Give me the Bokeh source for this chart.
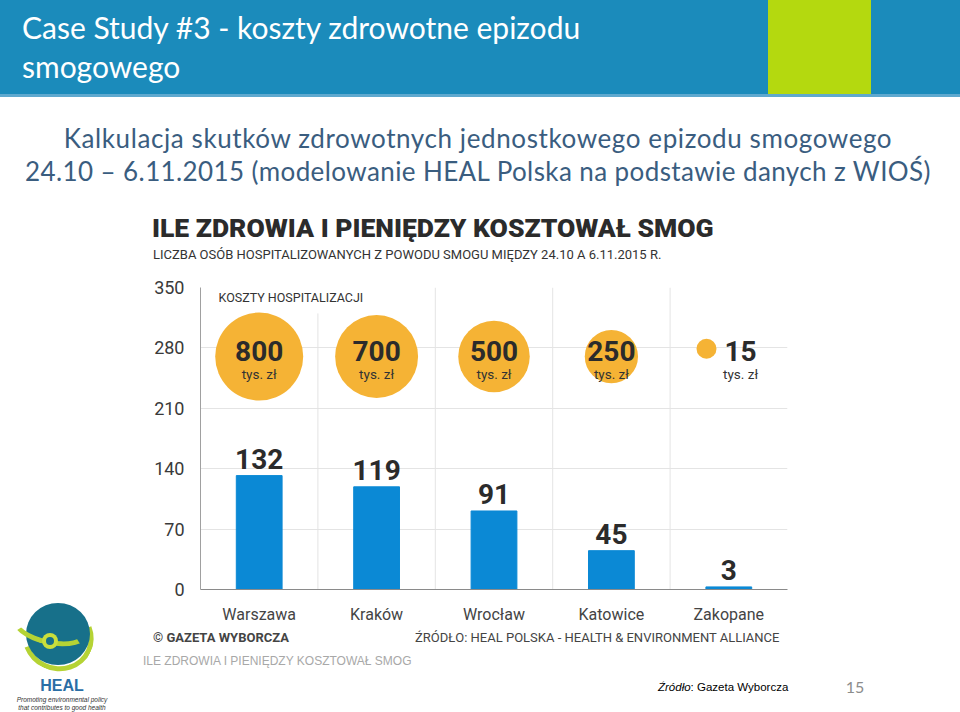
import html
import numpy as np
from bokeh.plotting import figure
from bokeh.models import Range1d, FactorRange, Label, ColumnDataSource, FixedTicker, Div
from bokeh.layouts import column
from bokeh.core.properties import value
from bokeh.embed import file_html
from bokeh.resources import INLINE

# ---------------- data ----------------
cities = ["Warszawa", "Kraków", "Wrocław", "Katowice", "Zakopane"]
hospitalized = [132, 119, 91, 45, 3]
costs = [800, 700, 500, 250, 15]
cost_unit = "tys. zł"
y_ticks = [0, 70, 140, 210, 280, 350]

slide_title_1 = "Case Study #3 - koszty zdrowotne epizodu"
slide_title_2 = "smogowego"
slide_sub_1 = "Kalkulacja skutków zdrowotnych jednostkowego epizodu smogowego"
slide_sub_2 = "24.10 – 6.11.2015 (modelowanie HEAL Polska na podstawie danych z WIOŚ)"
chart_title = "ILE ZDROWIA I PIENIĘDZY KOSZTOWAŁ SMOG"
chart_sub = "LICZBA OSÓB HOSPITALIZOWANYCH Z POWODU SMOGU MIĘDZY 24.10 A 6.11.2015 R."
cost_title = "KOSZTY HOSPITALIZACJI"
credit = "© GAZETA WYBORCZA"
source_txt = "ŹRÓDŁO: HEAL POLSKA - HEALTH & ENVIRONMENT ALLIANCE"
caption = "ILE ZDROWIA I PIENIĘDZY KOSZTOWAŁ SMOG"
src_label = "Źródło"
src_name = ": Gazeta Wyborcza"
page_no = "15"
logo_name = "HEAL"
logo_tag_1 = "Promoting environmental policy"
logo_tag_2 = "that contributes to good health"

# ---------------- styles ----------------
BAND = "#1b8bbb"
LIME = "#b4d90f"
SLATE = "#3a5d7f"
BAR = "#0b89d5"
ORANGE = "#f5b335"
DARK = "#2b2b2b"
SLIDE_FONT = "Lato"
CH_FONT = "Roboto"

TOP_H = 270            # page y where the chart figure starts
FIG_H = 356
FR_L, FR_R, FR_T, FR_B = 200, 787, 287, 597   # chart frame in page pixels
FOOT_OVER = 24
FOOT_TOP = TOP_H + FIG_H - FOOT_OVER


def tdiv(x, yc, text, size, color, family, weight="normal", style="normal",
         align="left", ls=0.0, y0=0, lh=None):
    lh = round(size * 1.3, 1) if lh is None else lh
    top = yc - y0 - lh / 2
    if align == "center":
        pos = f"left:{x - 480}px;width:960px;text-align:center;"
    else:
        pos = f"left:{x}px;"
    return (f'<div style="position:absolute;{pos}top:{top}px;line-height:{lh}px;height:{lh}px;'
            f"font-family:'{family}';font-size:{size}px;color:{color};font-weight:{weight};"
            f'font-style:{style};white-space:nowrap;letter-spacing:{ls}px;">{text}</div>')


def box(x, y, w, h, color, y0=0, extra=""):
    return (f'<div style="position:absolute;left:{x}px;top:{y - y0}px;width:{w}px;height:{h}px;'
            f'background:{color};{extra}"></div>')


def arc(cx, cy, w, h, bw, color, sides, rot, y0=0):
    borders = "".join(f"border-{s}-color:{color};" for s in sides)
    return (f'<div style="position:absolute;left:{cx - w / 2 - bw}px;top:{cy - h / 2 - bw - y0}px;'
            f'width:{w}px;height:{h}px;border-radius:50%;border:{bw}px solid transparent;'
            f'{borders}transform:rotate({rot}deg);"></div>')


# ---------------- top block: slide header + chart headings ----------------
top_html = "".join([
    box(0, 0, 960, 94, BAND),
    box(0, 94, 960, 3, "#5fa9cf"),
    box(768, 0, 103, 94, LIME),
    tdiv(22, 27, html.escape(slide_title_1), 30, "white", SLIDE_FONT),
    tdiv(22, 66, html.escape(slide_title_2), 30, "white", SLIDE_FONT),
    tdiv(478, 139, html.escape(slide_sub_1), 26, SLATE, SLIDE_FONT, align="center", ls=0.6),
    tdiv(478, 172, html.escape(slide_sub_2), 26, SLATE, SLIDE_FONT, align="center", ls=0.4),
    tdiv(152, 228, html.escape(chart_title), 26.5, DARK, CH_FONT, weight="900"),
    tdiv(153, 255, html.escape(chart_sub), 13, "#333333", CH_FONT),
])
top_div = Div(text=f'<div style="position:relative;width:960px;height:{TOP_H}px;">{top_html}</div>',
              width=960, height=TOP_H, margin=0)

# ---------------- main chart ----------------
p = figure(width=960, height=FIG_H, x_range=FactorRange(*cities), y_range=Range1d(0, 350),
           toolbar_location=None, output_backend="svg",
           min_border_left=FR_L, min_border_right=960 - FR_R,
           min_border_top=FR_T - TOP_H, min_border_bottom=TOP_H + FIG_H - FR_B)
p.outline_line_color = None
p.background_fill_color = "white"
p.border_fill_color = "white"
p.extra_y_ranges = {"py": Range1d(FR_B, FR_T)}
PX_PER_CAT = (FR_R - FR_L) / len(cities)


def sx(xpix):
    """page pixel x -> synthetic categorical coordinate"""
    return (xpix - FR_L) / PX_PER_CAT


p.xgrid.visible = False
p.ygrid.ticker = FixedTicker(ticks=y_ticks[1:])
p.ygrid.grid_line_color = "#e4e4e4"

p.yaxis.ticker = FixedTicker(ticks=y_ticks)
p.yaxis.major_label_text_font = CH_FONT
p.yaxis.major_label_text_font_size = "18px"
p.yaxis.major_label_text_color = "#3a3a3a"
p.yaxis.major_label_standoff = 10
p.yaxis.major_tick_line_color = None
p.yaxis.minor_tick_line_color = None
p.yaxis.axis_line_color = "#a0a0a0"

p.xaxis.major_label_text_font = CH_FONT
p.xaxis.major_label_text_font_size = "16px"
p.xaxis.major_label_text_color = "#444444"
p.xaxis.major_label_standoff = 9
p.xaxis.major_tick_line_color = None
p.xaxis.axis_line_color = "#8a8a8a"

# category separators (synthetic category boundaries)
bounds = list(range(1, len(cities)))
sep_top = [320] + [350] * (len(bounds) - 1)
p.segment(x0=bounds, y0=[0] * len(bounds), x1=bounds, y1=sep_top, line_color="#e4e4e4", line_width=1)

src = ColumnDataSource(dict(city=cities, hosp=hospitalized,
                            hosp_txt=[str(v) for v in hospitalized]))
p.vbar(x="city", top="hosp", width=0.39, color=BAR, source=src)
p.text(x="city", y="hosp", text="hosp_txt", source=src, text_align="center",
       text_baseline="middle", y_offset=-17, text_font=value(CH_FONT),
       text_font_style="bold", text_font_size="28px", text_color=DARK)

# cost bubbles
radii = [4.6 + 1.393 * np.sqrt(c) for c in costs]
small = [r < 20 for r in radii]
circ_x = [i + 0.5 + (-0.19 if s else 0.0) for i, s in enumerate(small)]
circ_y = [279 if s else 270 for s in small]
txt_x = [i + 0.5 + (0.1 if s else 0.0) for i, s in enumerate(small)]
csrc = ColumnDataSource(dict(cx=circ_x, cy=circ_y, tx=txt_x, ty=[270] * len(costs),
                             size=[2 * r for r in radii],
                             ctxt=[str(c) for c in costs], unit=[cost_unit] * len(costs)))
p.scatter(x="cx", y="cy", size="size", fill_color=ORANGE, line_color=None, source=csrc)
p.text(x="tx", y="ty", text="ctxt", source=csrc, text_align="center", text_baseline="middle",
       y_offset=-6, text_font=value(CH_FONT), text_font_style="bold", text_font_size="28px",
       text_color=DARK)
p.text(x="tx", y="ty", text="unit", source=csrc, text_align="center", text_baseline="middle",
       y_offset=17, text_font=value(CH_FONT), text_font_size="13.5px", text_color="#333333")

p.add_layout(Label(x=sx(218), y=297, y_range_name="py", text=cost_title, text_font=CH_FONT,
                   text_font_size="12.5px", text_color="#333333", text_baseline="middle"))

# ---------------- footer ----------------
F0 = FOOT_TOP
logo = "".join([
    arc(63, 642, 72, 68, 5, "#b5d334", ["bottom", "right"], 25, y0=F0),   # outer swoosh
    box(58 - 32, 634 - 31, 64, 62, "#17708a", y0=F0, extra="border-radius:50%;"),
    arc(56, 630, 80, 40, 5, "#b5d334", ["bottom"], 12, y0=F0),            # inner swoosh
    box(50 - 8, 641 - 8, 16, 16, "#c9df3c", y0=F0, extra="border-radius:50%;"),
    box(50 - 4, 641 - 4, 8, 8, "#17708a", y0=F0, extra="border-radius:50%;"),
    tdiv(62, 685.5, html.escape(logo_name), 16, "#2a6ea6", "Liberation Sans", weight="bold",
         align="center", y0=F0, lh=15),
    tdiv(62, 699, html.escape(logo_tag_1), 6.5, "#333333", "Liberation Sans", style="italic",
         align="center", y0=F0, lh=7),
    tdiv(62, 707, html.escape(logo_tag_2), 6.5, "#333333", "Liberation Sans", style="italic",
         align="center", y0=F0, lh=7),
])
foot_html = "".join([
    logo,
    tdiv(153, 638, html.escape(credit), 13, "#444444", CH_FONT, weight="bold", y0=F0),
    tdiv(415, 638, html.escape(source_txt), 13, "#444444", CH_FONT, y0=F0),
    tdiv(143, 662, html.escape(caption), 12, "#a8a8a8", "Liberation Sans", y0=F0),
    tdiv(658, 687, f"<i>{html.escape(src_label)}</i>{html.escape(src_name)}", 11.5, "black",
         "Liberation Sans", y0=F0),
    tdiv(855, 687, html.escape(page_no), 16, "#8c8c8c", SLIDE_FONT, align="center", y0=F0),
])
FOOT_H = 710 - FOOT_TOP
foot_div = Div(text=f'<div style="position:relative;width:960px;height:{FOOT_H}px;">{foot_html}</div>',
               width=960, height=FOOT_H, margin=0, styles={"margin-top": f"-{FOOT_OVER}px"})

layout = column(top_div, p, foot_div, spacing=0)
open("out.html", "w").write(file_html(layout, INLINE))
